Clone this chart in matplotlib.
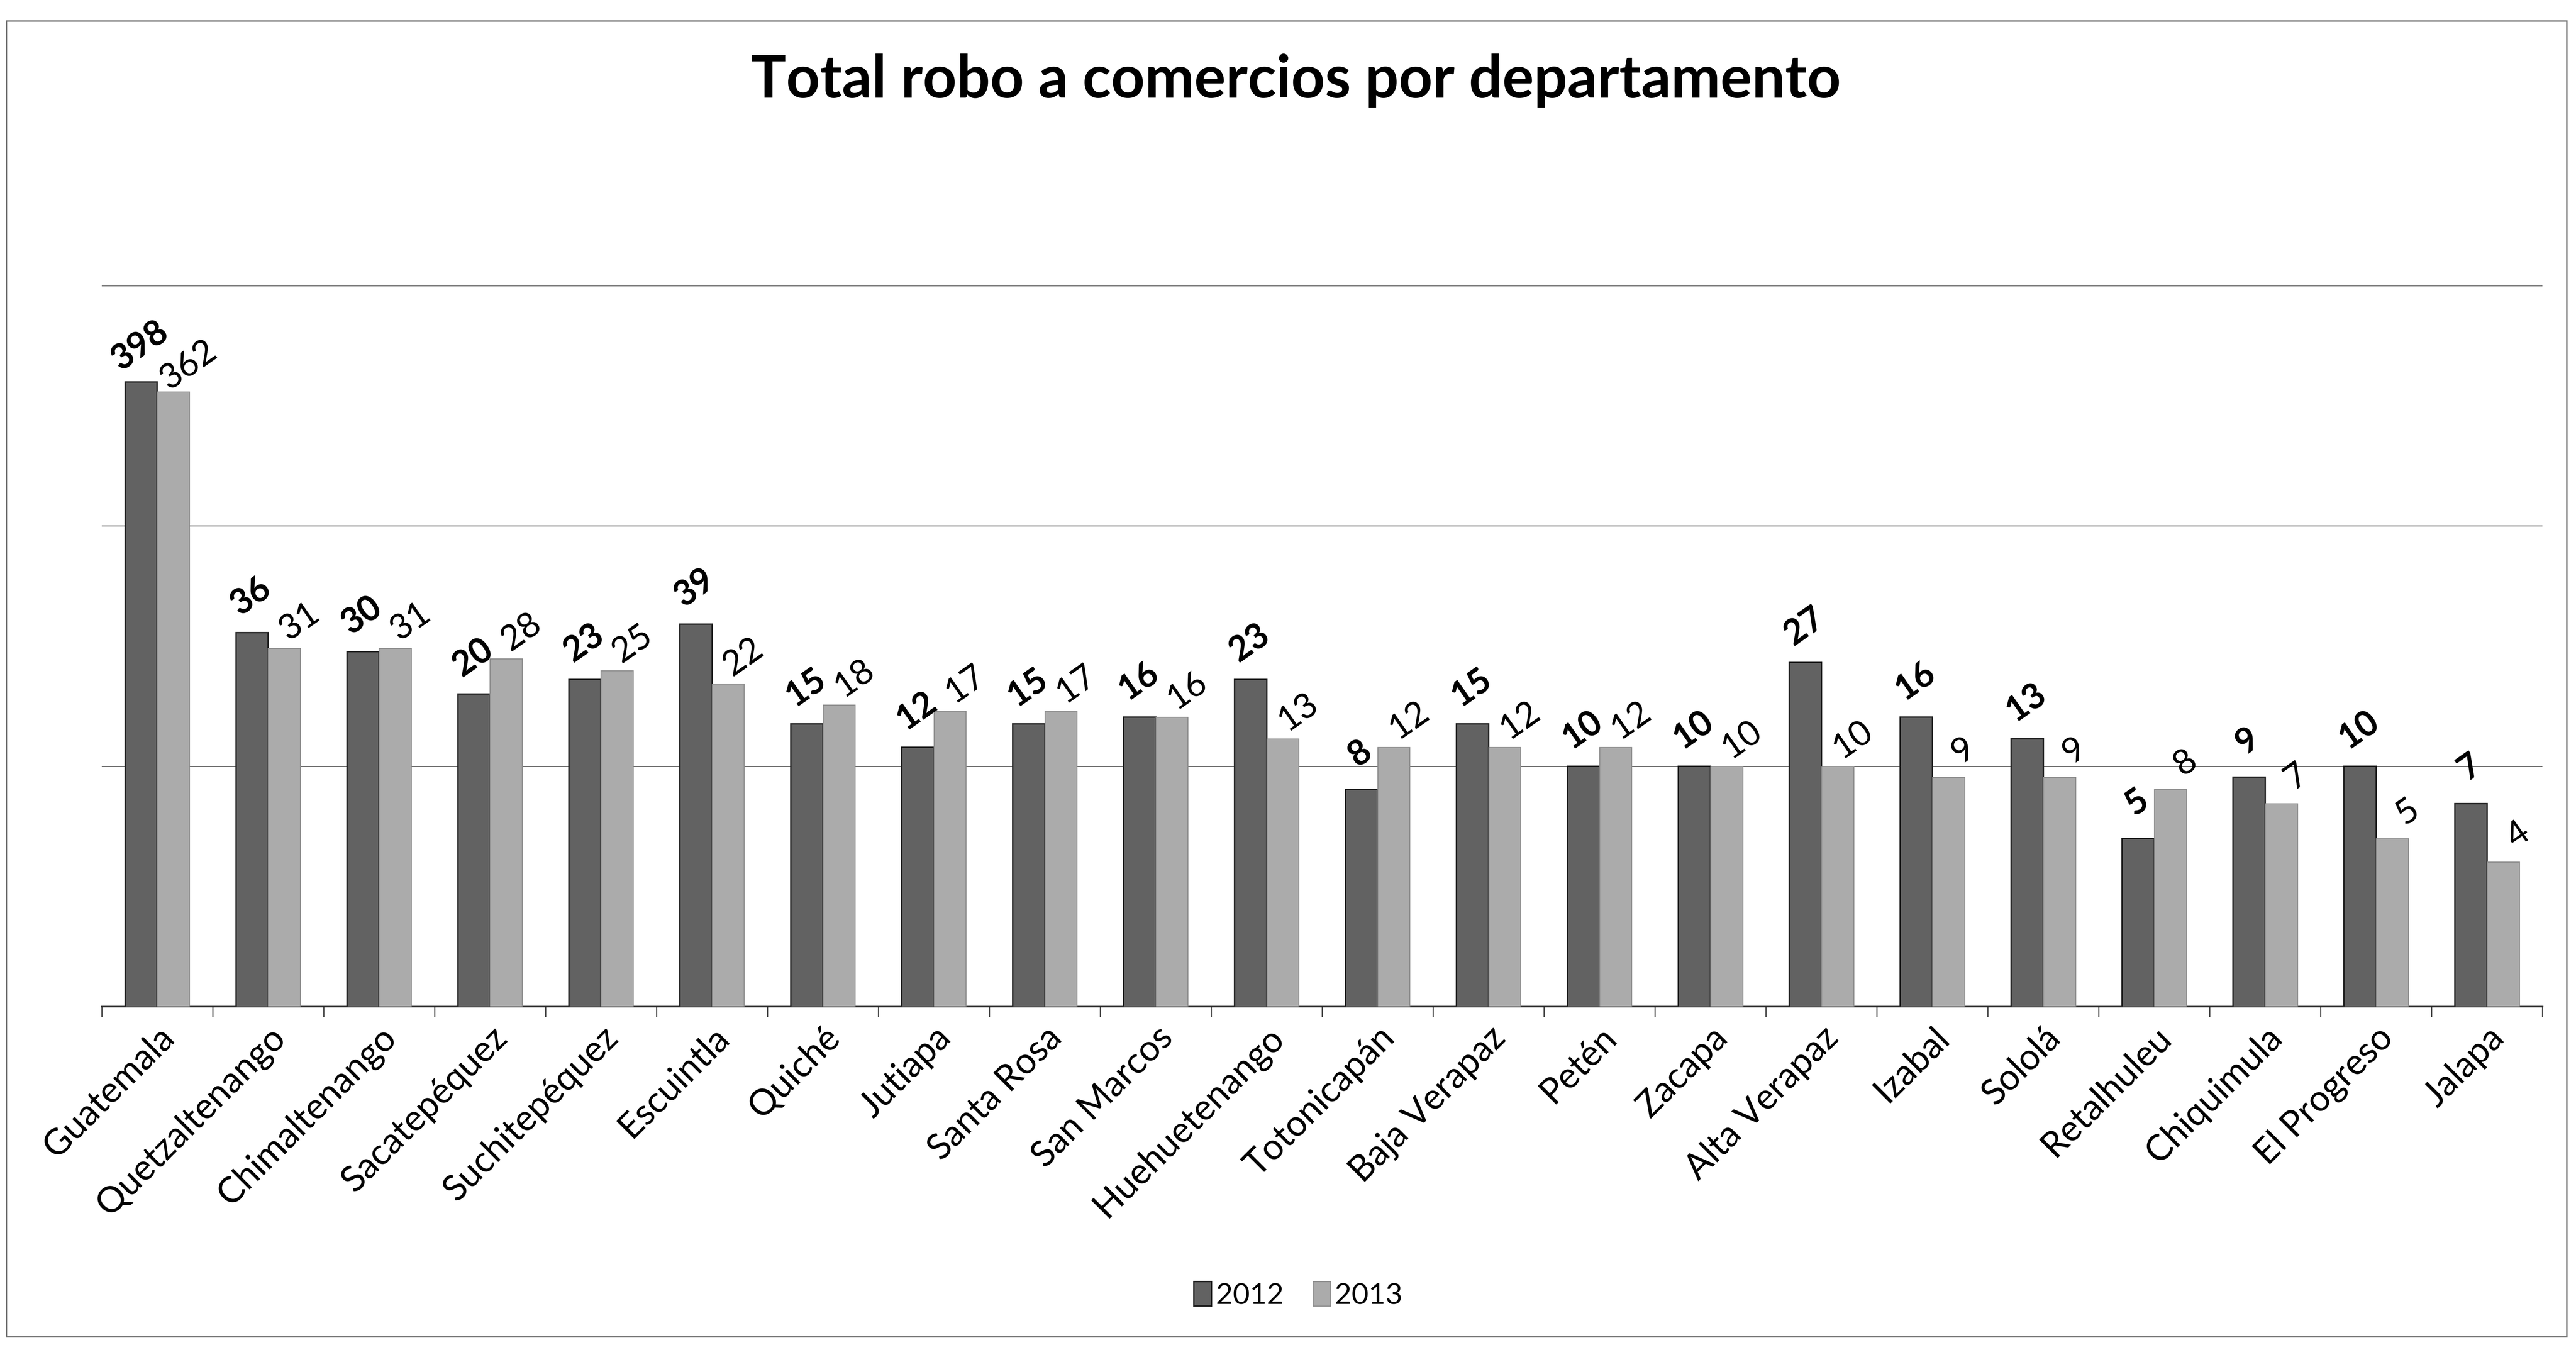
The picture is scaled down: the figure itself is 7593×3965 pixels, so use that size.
import numpy as np
import matplotlib
matplotlib.use("Agg")
import matplotlib.pyplot as plt
from matplotlib.patches import Rectangle, Patch

plt.rcParams['font.family'] = ['Lato', 'DejaVu Sans']

departamentos = ["Guatemala", "Quetzaltenango", "Chimaltenango", "Sacatepéquez",
                 "Suchitepéquez", "Escuintla", "Quiché", "Jutiapa", "Santa Rosa",
                 "San Marcos", "Huehuetenango", "Totonicapán", "Baja Verapaz",
                 "Petén", "Zacapa", "Alta Verapaz", "Izabal", "Sololá",
                 "Retalhuleu", "Chiquimula", "El Progreso", "Jalapa"]
robos_2012 = [398, 36, 30, 20, 23, 39, 15, 12, 15, 16, 23, 8, 15, 10, 10, 27, 16, 13, 5, 9, 10, 7]
robos_2013 = [362, 31, 31, 28, 25, 22, 18, 17, 17, 16, 13, 12, 12, 12, 10, 10, 9, 9, 8, 7, 5, 4]

c12 = "#626262"
c13 = "#ababab"

fig = plt.figure(figsize=(75.93, 39.66), dpi=100)
ax = fig.add_axes([0.0395, 0.2516, 0.9475, 0.5358])

x = np.arange(len(departamentos))
w = 0.29
ax.bar(x - w / 2, robos_2012, w, color=c12, edgecolor="#1e1e1e", linewidth=3, zorder=3)
ax.bar(x + w / 2, robos_2013, w, color=c13, edgecolor="#8c8c8c", linewidth=2, zorder=3)

ax.set_yscale("log")
ax.set_ylim(1, 1000)
ax.set_xlim(-0.5, len(departamentos) - 0.5)
ax.set_yticks([10, 100, 1000])
ax.yaxis.set_minor_locator(matplotlib.ticker.NullLocator())
ax.tick_params(axis="y", length=0, labelleft=False)
ax.grid(axis="y", color="#5a5a5a", linewidth=2.2, zorder=0)

# tick marks between categories, names centred under each group
ax.set_xticks(np.arange(-0.5, len(departamentos), 1.0))
ax.tick_params(axis="x", which="major", length=22, width=2.5, color="#444444",
               labelbottom=False)
ax.set_xticks(x, labels=departamentos, minor=True)
ax.tick_params(axis="x", which="minor", length=0, labelsize=76, pad=30)
for lab in ax.get_xticklabels(minor=True):
    lab.set_rotation(45)
    lab.set_ha("right")
    lab.set_va("top")
    lab.set_rotation_mode("anchor")

for s in ["top", "right", "left"]:
    ax.spines[s].set_visible(False)
ax.spines["bottom"].set_linewidth(3.5)
ax.spines["bottom"].set_color("#333333")

# value labels
for xi, v in zip(x, robos_2012):
    ax.annotate(str(v), xy=(xi - w / 2, v), xytext=(-3, 78), textcoords="offset points",
                rotation=35, ha="center", va="center", fontsize=74, fontweight="bold")
for xi, v in zip(x, robos_2013):
    ax.annotate(str(v), xy=(xi + w / 2, v), xytext=(32, 58), textcoords="offset points",
                rotation=35, ha="center", va="center", fontsize=74)

fig.text(0.503, 0.94, "Total robo a comercios por departamento", ha="center", va="center",
         fontsize=125, fontweight="bold")

handles = [Patch(facecolor=c12, edgecolor="#1e1e1e", linewidth=3),
           Patch(facecolor=c13, edgecolor="#8c8c8c", linewidth=2)]
fig.legend(handles, ["2012", "2013"], loc="center", bbox_to_anchor=(0.504, 0.037),
           ncol=2, frameon=False, fontsize=62, handlelength=0.6, handleheight=0.9,
           handletextpad=0.15, columnspacing=1.0)

fig.patches.append(Rectangle((0.0025, 0.006), 0.994, 0.978, transform=fig.transFigure,
                             fill=False, edgecolor="#6e6e6e", linewidth=3))

fig.savefig("out.png", dpi=100, facecolor="white")
